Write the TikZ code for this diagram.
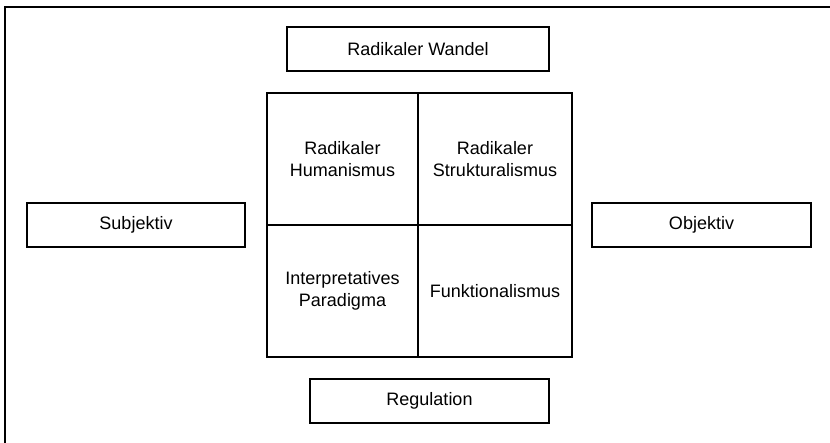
\documentclass[tikz,border=0pt]{standalone}
\usepackage{fontspec}
\setmainfont{Liberation Sans}
\begin{document}
\begin{tikzpicture}[x=1pt,y=-1pt,
  lbl/.style={font=\fontsize{18}{22}\selectfont, align=center, inner sep=0pt},
  box/.style={lbl, draw, line width=1.3pt},
  cell/.style={lbl, draw, line width=1.4pt, minimum height=132pt}]
\useasboundingbox (0,0) rectangle (830,442);
\clip (0,0) rectangle (830,442);
\fill[white] (0,0) rectangle (830,442);
\draw[line width=1.6pt] (5,7) rectangle (840,452);
\node[box, minimum width=262pt, minimum height=44pt] (wandel) at (418,49) {Radikaler Wandel};
\node[box, minimum width=218pt, minimum height=44pt] (subj) at (136,225) {Subjektiv};
\node[box, minimum width=219pt, minimum height=44pt] (obj) at (701.5,225) {Objektiv};
\node[box, minimum width=239pt, minimum height=44pt] (reg) at (429.5,401) {Regulation};
\node[cell, minimum width=151pt] (rh) at (342.5,159) {Radikaler\\Humanismus};
\node[cell, minimum width=154pt] (rs) at (495,159) {Radikaler\\Strukturalismus};
\node[cell, minimum width=151pt] (ip) at (342.5,291) {Interpretatives\\Paradigma};
\node[cell, minimum width=154pt] (fu) at (495,291) {Funktionalismus};
\end{tikzpicture}
\end{document}
